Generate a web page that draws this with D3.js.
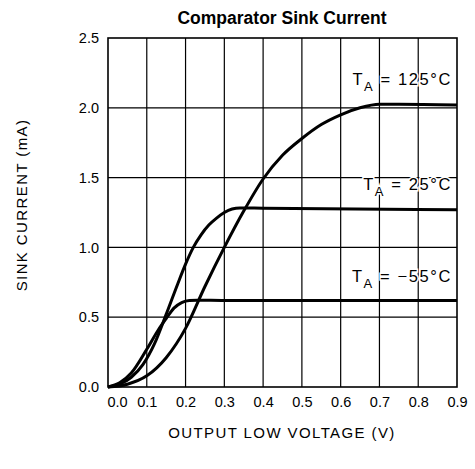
<!DOCTYPE html>
<html>
<head>
<meta charset="utf-8">
<script src="https://cdn.jsdelivr.net/npm/d3@7"></script>
<style>
html, body { margin: 0; padding: 0; background: #fff; }
svg { display: block; }
</style>
</head>
<body>
<svg id="chart" width="475" height="469"></svg>
<script>
// ---- data ----
const xTicks = [0.0, 0.1, 0.2, 0.3, 0.4, 0.5, 0.6, 0.7, 0.8, 0.9];
const yTicks = [0.0, 0.5, 1.0, 1.5, 2.0, 2.5];
const seriesNames = ["125°C", "25°C", "-55°C"];
const volt125 = [0, 0.05, 0.1, 0.15, 0.2, 0.25, 0.3, 0.35, 0.4, 0.45, 0.5, 0.55, 0.6, 0.65, 0.7, 0.75, 0.9];
const cur125  = [0, 0.02, 0.08, 0.21, 0.42, 0.72, 1.0, 1.26, 1.49, 1.66, 1.78, 1.88, 1.95, 2.0, 2.025, 2.025, 2.02];
const volt25 = [0, 0.03, 0.06, 0.09, 0.12, 0.15, 0.18, 0.2, 0.22, 0.24, 0.26, 0.28, 0.3, 0.32, 0.34, 0.4, 0.9];
const cur25  = [0, 0.02, 0.07, 0.16, 0.31, 0.52, 0.74, 0.88, 1.0, 1.09, 1.16, 1.21, 1.25, 1.275, 1.283, 1.28, 1.27];
const voltM55 = [0, 0.03, 0.06, 0.1, 0.13, 0.15, 0.17, 0.19, 0.21, 0.23, 0.3, 0.9];
const curM55  = [0, 0.03, 0.1, 0.27, 0.41, 0.49, 0.565, 0.605, 0.62, 0.622, 0.62, 0.62];
const labelSub = "A";
const labelTemps = ["125°C", "25°C", "−55°C"];
const labelY = [2.16, 1.41, 0.755];

// ---- layout ----
const svg = d3.select("#chart");
const m = {left: 108, right: 457, top: 38, bottom: 387};
const x = d3.scaleLinear().domain([0, 0.9]).range([m.left, m.right]);
const y = d3.scaleLinear().domain([0, 2.5]).range([m.bottom, m.top]);
const tickFont = "'Liberation Sans', Arial, sans-serif";

// grid
svg.append("g").selectAll("line").data(xTicks.slice(1, -1)).join("line")
  .attr("x1", d => x(d)).attr("x2", d => x(d))
  .attr("y1", m.top).attr("y2", m.bottom)
  .attr("stroke", "#000").attr("stroke-width", 1.2);
svg.append("g").selectAll("line").data(yTicks.slice(1, -1)).join("line")
  .attr("y1", d => y(d)).attr("y2", d => y(d))
  .attr("x1", m.left).attr("x2", m.right)
  .attr("stroke", "#000").attr("stroke-width", 1.2);
svg.append("rect").attr("x", m.left).attr("y", m.top)
  .attr("width", m.right - m.left).attr("height", m.bottom - m.top)
  .attr("fill", "none").attr("stroke", "#000").attr("stroke-width", 1.6);

// axes (labels only)
const xAxis = d3.axisBottom(x).tickValues(xTicks).tickFormat(d3.format(".1f")).tickSize(0).tickPadding(10);
const gx = svg.append("g").attr("transform", `translate(0,${m.bottom})`).call(xAxis);
gx.select(".domain").remove();
gx.selectAll("text").attr("font-family", tickFont).attr("font-size", 14.5).attr("fill", "#000")
  .attr("dx", (d, i) => i === 0 ? 9 : 0);
const yAxis = d3.axisLeft(y).tickValues(yTicks).tickFormat(d3.format(".1f")).tickSize(0).tickPadding(9);
const gy = svg.append("g").attr("transform", `translate(${m.left},0)`).call(yAxis);
gy.select(".domain").remove();
gy.selectAll("text").attr("font-family", tickFont).attr("font-size", 14.5).attr("fill", "#000");

// curves
const line = d3.line().x(d => x(d[0])).y(d => y(d[1])).curve(d3.curveMonotoneX);
const series = [
  d3.zip(volt125, cur125),
  d3.zip(volt25, cur25),
  d3.zip(voltM55, curM55)
];
svg.append("g").selectAll("path").data(series).join("path")
  .attr("d", line).attr("fill", "none").attr("stroke", "#000")
  .attr("stroke-width", 3).attr("stroke-linejoin", "round");

// labels
const lab = svg.append("g").attr("font-family", tickFont).attr("fill", "#000")
  .attr("stroke", "#fff").attr("stroke-width", 3).attr("paint-order", "stroke");
labelTemps.forEach((t, i) => {
  const tx = lab.append("text").attr("x", 452).attr("y", y(labelY[i]))
    .attr("text-anchor", "end").attr("font-size", 16.5).attr("letter-spacing", 1.6);
  tx.append("tspan").text("T");
  tx.append("tspan").attr("font-size", 13).attr("dy", 6).text(labelSub);
  tx.append("tspan").attr("dy", -6).text(" = " + t);
});

// titles
svg.append("text").attr("x", 282).attr("y", 24).attr("text-anchor", "middle")
  .attr("font-family", "'Liberation Sans', Arial, sans-serif").attr("font-weight", "bold")
  .attr("font-size", 17.5).text("Comparator Sink Current");
svg.append("text").attr("x", 282).attr("y", 438).attr("text-anchor", "middle")
  .attr("font-family", tickFont).attr("font-size", 15).attr("letter-spacing", 1.4)
  .text("OUTPUT LOW VOLTAGE (V)");
svg.append("text").attr("transform", "translate(27,205) rotate(-90)").attr("text-anchor", "middle")
  .attr("font-family", tickFont).attr("font-size", 15).attr("letter-spacing", 1.4)
  .text("SINK CURRENT (mA)");
</script>
</body>
</html>
